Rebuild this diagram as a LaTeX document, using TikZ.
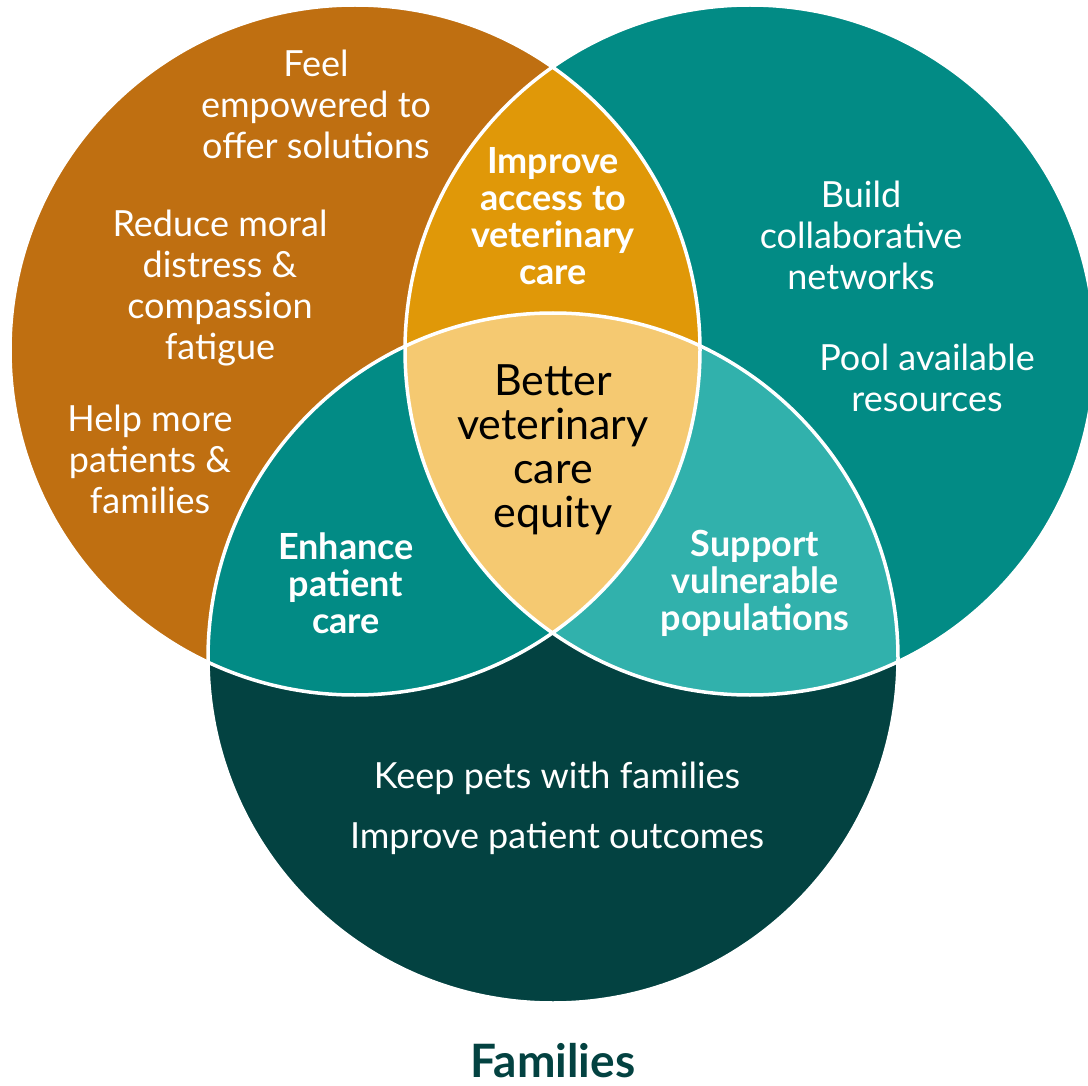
\documentclass[tikz,border=0pt]{standalone}
\usepackage{fontspec}
\setmainfont{Lato}
\usetikzlibrary{positioning}

\definecolor{vetOrange}{HTML}{BF6F11}
\definecolor{vetTeal}{HTML}{028B85}
\definecolor{vetDark}{HTML}{034241}
\definecolor{vetGold}{HTML}{E09808}
\definecolor{vetAqua}{HTML}{31B1AC}
\definecolor{vetSand}{HTML}{F5C971}

\begin{document}
\begin{tikzpicture}[x = 1pt, y = -1pt,
    every node/.style = {align = center, text = white, inner sep = 0pt},
    plain/.style = {font = \fontsize{36}{41}\selectfont},
    lens/.style = {font = \fontsize{36}{37}\selectfont\bfseries},
    core/.style = {text = black, font = \fontsize{43}{44}\selectfont},
    rim/.style = {draw = white, line width = 3.5pt}]
    \clip (0, 0) rectangle (1088, 1086);
    \coordinate (cl) at (355, 350);
    \coordinate (cr) at (750, 350);
    \coordinate (cb) at (553, 658);
    % circles
    \fill[vetOrange] (cl) circle [radius = 345pt];
    \fill[vetTeal] (cr) circle [radius = 345pt];
    \fill[vetDark] (cb) circle [radius = 345pt];
    % overlaps
    \begin{scope}
        \clip (cl) circle [radius = 345pt];
        \fill[vetGold] (cr) circle [radius = 345pt];
        \fill[vetTeal] (cb) circle [radius = 345pt];
    \end{scope}
    \begin{scope}
        \clip (cr) circle [radius = 345pt];
        \fill[vetAqua] (cb) circle [radius = 345pt];
        \clip (cl) circle [radius = 345pt];
        \fill[vetSand] (cb) circle [radius = 345pt];
    \end{scope}
    \draw[rim] (cl) circle [radius = 345pt];
    \draw[rim] (cr) circle [radius = 345pt];
    \draw[rim] (cb) circle [radius = 345pt];
    % left
    \node[plain] (feel) at (316, 104) {Feel\\empowered to\\offer solutions};
    \node[plain] (moral) at (220, 288) {Reduce moral\\distress \&\\compassion\\fatigue};
    \node[plain] (help) at (150, 459) {Help more\\patients \&\\families};
    % right
    \node[plain] (build) at (861, 235) {Build\\collaborative\\networks};
    \node[plain] (pool) at (927, 378) {Pool available\\resources};
    % bottom
    \node[plain] (keep) at (557, 778) {Keep pets with families};
    \node[plain] (outcome) at (557, 838) {Improve patient outcomes};
    % overlaps
    \node[lens] (access) at (553, 216) {Improve\\access to\\veterinary\\care};
    \node[lens] (enhance) at (346, 583) {Enhance\\patient\\care};
    \node[lens] (support) at (755, 583) {Support\\vulnerable\\populations};
    \node[core] (equity) at (553, 450) {Better\\veterinary\\care\\equity};
    % title
    \node[anchor = base, text = vetDark, font = \fontsize{46}{48}\selectfont\bfseries] (families) at (553, 1077) {Families};
\end{tikzpicture}
\end{document}
